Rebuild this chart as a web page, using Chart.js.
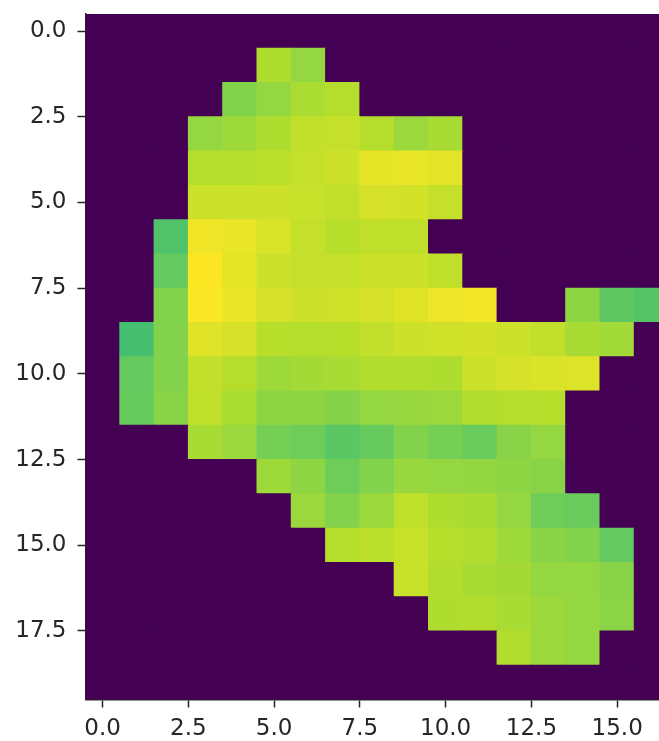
<!DOCTYPE html>
<html>
<head>
<meta charset="utf-8">
<title>Heatmap</title>
<style>
  html, body { margin: 0; padding: 0; background: #fff; overflow: hidden; }
  canvas { display: block; }
</style>
<script src="https://cdn.jsdelivr.net/npm/chart.js@4"></script>
</head>
<body>
<canvas id="chart" width="659" height="741"></canvas>
<script>
// Tick positions on both axes
const xTicks = [0, 2.5, 5, 7.5, 10, 12.5, 15];
const yTicks = [0, 2.5, 5, 7.5, 10, 12.5, 15, 17.5];

// Cell values, one list per image row (0 = background)
const row00 = [0,0,0,0,0,0,0,0,0,0,0,0,0,0,0,0,0];
const row01 = [0,0,0,0,0,.88,.84,0,0,0,0,0,0,0,0,0,0];
const row02 = [0,0,0,0,.81,.84,.875,.89,0,0,0,0,0,0,0,0,0];
const row03 = [0,0,0,.84,.855,.88,.91,.915,.89,.85,.87,0,0,0,0,0,0];
const row04 = [0,0,0,.89,.89,.90,.915,.925,.965,.97,.96,0,0,0,0,0,0];
const row05 = [0,0,0,.925,.925,.925,.92,.91,.94,.935,.915,0,0,0,0,0,0];
const row06 = [0,0,.72,.98,.97,.945,.915,.895,.905,.905,0,0,0,0,0,0,0];
const row07 = [0,0,.76,1,.965,.925,.915,.915,.925,.925,.905,0,0,0,0,0,0];
const row08 = [0,0,.81,.995,.97,.94,.925,.93,.94,.955,.975,.985,0,0,.83,.75,.73];
const row09 = [0,.70,.81,.955,.94,.895,.89,.895,.91,.925,.93,.935,.925,.91,.87,.86,0];
const row10 = [0,.76,.81,.91,.89,.855,.865,.87,.885,.885,.88,.925,.94,.945,.95,0,0];
const row11 = [0,.765,.82,.905,.875,.83,.83,.815,.84,.845,.85,.885,.89,.895,0,0,0];
const row12 = [0,0,0,.87,.85,.79,.78,.74,.765,.81,.79,.77,.82,.84,0,0,0];
const row13 = [0,0,0,0,0,.855,.83,.78,.81,.845,.84,.835,.83,.82,0,0,0];
const row14 = [0,0,0,0,0,0,.85,.81,.85,.905,.88,.87,.84,.78,.77,0,0];
const row15 = [0,0,0,0,0,0,0,.89,.90,.92,.895,.885,.855,.82,.81,.76,0];
const row16 = [0,0,0,0,0,0,0,0,0,.92,.885,.87,.865,.84,.84,.82,0];
const row17 = [0,0,0,0,0,0,0,0,0,0,.88,.885,.87,.85,.84,.825,0];
const row18 = [0,0,0,0,0,0,0,0,0,0,0,0,.885,.85,.84,0,0];
const row19 = [0,0,0,0,0,0,0,0,0,0,0,0,0,0,0,0,0];
const rows = [row00, row01, row02, row03, row04, row05, row06, row07, row08, row09,
              row10, row11, row12, row13, row14, row15, row16, row17, row18, row19];

// Viridis colormap stops
const viridis = [
  [68, 1, 84], [72, 40, 120], [62, 74, 137], [49, 104, 142], [38, 130, 142],
  [31, 158, 137], [53, 183, 121], [109, 205, 89], [180, 222, 44], [253, 231, 37]
];

function colorFor(v) {
  const pos = v * (viridis.length - 1);
  const i = Math.min(Math.floor(pos), viridis.length - 2);
  const t = pos - i;
  const c = viridis[i].map((a, k) => Math.round(a + (viridis[i + 1][k] - a) * t));
  return `rgb(${c[0]}, ${c[1]}, ${c[2]})`;
}

// One floating bar per cell
const cells = [];
rows.forEach((row, r) => {
  row.forEach((v, c) => {
    cells.push({ x: c, y: [r - 0.5, r + 0.5], v: v });
  });
});

const tickFont = { family: '"DejaVu Sans"', size: 23 };
const tickColor = '#262626';

new Chart(document.getElementById('chart'), {
  type: 'bar',
  data: {
    datasets: [{
      data: cells,
      backgroundColor: (ctx) => colorFor(ctx.raw ? ctx.raw.v : 0),
      barPercentage: 1,
      categoryPercentage: 1,
      borderWidth: 0,
      inflateAmount: 0.5,
    }],
  },
  options: {
    responsive: false,
    animation: false,
    layout: { padding: { top: 14 } },
    plugins: { legend: { display: false }, tooltip: { enabled: false } },
    scales: {
      x: {
        type: 'linear',
        offset: false,
        min: -0.5,
        max: 16.22,
        afterBuildTicks: (scale) => { scale.ticks = xTicks.map((v) => ({ value: v })); },
        afterFit: (scale) => {
          scale.height = 41.5;
          scale.paddingLeft = 0;
          scale.paddingRight = 0;
        },
        grid: { offset: false, drawOnChartArea: false, tickLength: 8, tickColor: tickColor, tickWidth: 1.5 },
        border: { display: true, color: tickColor, width: 1.5 },
        ticks: {
          font: tickFont, color: tickColor, padding: 8, maxRotation: 0, autoSkip: false,
          callback: (v) => v.toFixed(1),
        },
      },
      top: {
        type: 'linear',
        position: 'top',
        afterFit: (scale) => { scale.height = 0; },
        grid: { drawOnChartArea: false, drawTicks: false },
        border: { display: true, color: tickColor, width: 1 },
        ticks: { display: false },
      },
      y: {
        type: 'linear',
        reverse: true,
        min: -0.5,
        max: 19.5,
        afterBuildTicks: (scale) => { scale.ticks = yTicks.map((v) => ({ value: v })); },
        afterFit: (scale) => {
          scale.width = 85.5;
          scale.paddingTop = 0;
          scale.paddingBottom = 0;
        },
        grid: { drawOnChartArea: false, tickLength: 8, tickColor: tickColor, tickWidth: 1.5 },
        border: { display: true, color: tickColor, width: 1.5 },
        ticks: {
          font: tickFont, color: tickColor, padding: 11, autoSkip: false,
          callback: (v) => v.toFixed(1),
        },
      },
    },
  },
});
</script>
</body>
</html>
